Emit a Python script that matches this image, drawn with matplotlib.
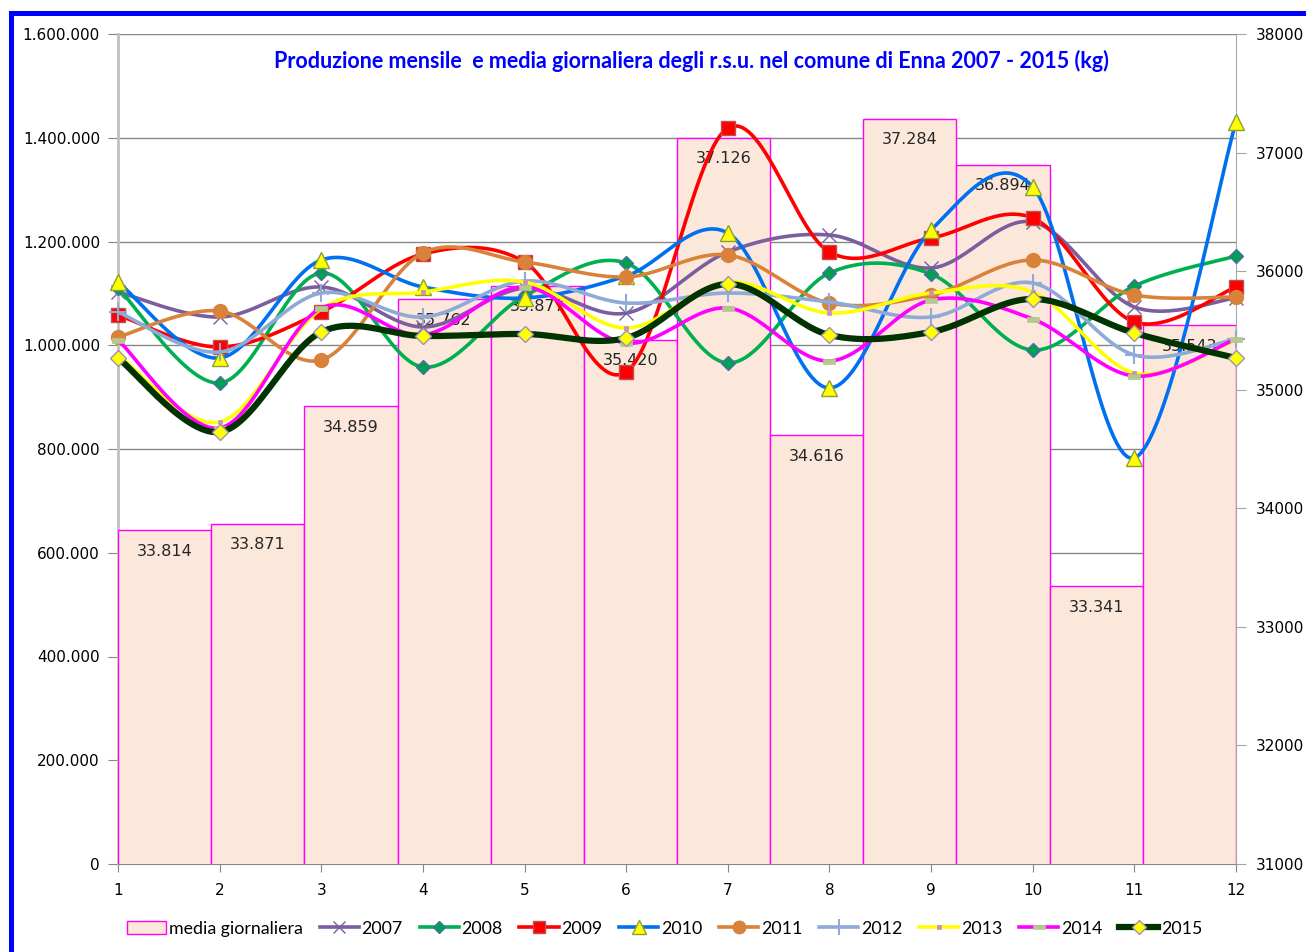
import numpy as np
import matplotlib
matplotlib.use("Agg")
import matplotlib.pyplot as plt
from matplotlib.lines import Line2D
from matplotlib.patches import Rectangle
from matplotlib.path import Path

# --- dati ---
mesi = list(range(1, 13))
media_giornaliera = [33814, 33871, 34859, 35762, 35877, 35420,
                     37126, 34616, 37284, 36894, 33341, 35543]

prod_2007 = [1102600, 1054400, 1112300, 1035200, 1110000, 1062000,
             1179700, 1212500, 1148900, 1237600, 1073700, 1091100]
prod_2008 = [1110300, 927200, 1139300, 958000, 1094900, 1158500,
             965800, 1139300, 1137300, 990800, 1114200, 1172000]
prod_2009 = [1058300, 996600, 1064100, 1175900, 1160500, 948400,
             1418800, 1179700, 1206800, 1245300, 1044800, 1112300]
prod_2010 = [1121900, 975400, 1164300, 1112300, 1091100, 1133500,
             1216400, 917600, 1222200, 1305000, 782600, 1430400]
prod_2011 = [1015900, 1066000, 971600, 1177800, 1160500, 1131600,
             1174000, 1081400, 1096900, 1164300, 1096900, 1093000]
prod_2012 = [1064100, 987000, 1100700, 1054400, 1123800, 1081400,
             1100700, 1083400, 1054400, 1120000, 981200, 1012000]
prod_2013 = [981200, 852000, 1070000, 1102600, 1121900, 1033300,
             1121900, 1062200, 1100700, 1102600, 946500, 1010100]
prod_2014 = [1010100, 840500, 1071800, 1020000, 1112300, 1004300,
             1071800, 969600, 1087200, 1050600, 940700, 1012000]
prod_2015 = [975400, 832800, 1025500, 1017800, 1021700, 1014000,
             1118100, 1019800, 1025500, 1089200, 1023600, 975400]

anni = ["2007", "2008", "2009", "2010", "2011", "2012", "2013", "2014", "2015"]
serie = [prod_2007, prod_2008, prod_2009, prod_2010, prod_2011,
         prod_2012, prod_2013, prod_2014, prod_2015]

# barretta orizzontale per il 2014
bar_marker = Path([(-1, -0.4), (1, -0.4), (1, 0.4), (-1, 0.4), (-1, -0.4)],
                  [Path.MOVETO, Path.LINETO, Path.LINETO, Path.LINETO, Path.CLOSEPOLY])

stili = [
    dict(color="#7b5e9f", lw=2.6, marker="x", ms=10, mfc="#7b5e9f", mec="#7b5e9f", mew=1.0),
    dict(color="#00b050", lw=2.6, marker="D", ms=7, mfc="#00a050", mec="#4a6ca8", mew=1.0),
    dict(color="#ff0000", lw=2.6, marker="s", ms=10, mfc="#ff0000", mec="#c0504d", mew=1.0),
    dict(color="#0070f0", lw=2.6, marker="^", ms=11, mfc="#ffff00", mec="#8ca030", mew=1.0),
    dict(color="#d9823a", lw=2.6, marker="o", ms=10, mfc="#d9823a", mec="#d9823a", mew=1.0),
    dict(color="#8eaad6", lw=2.6, marker="+", ms=13, mfc="#8eaad6", mec="#8eaad6", mew=1.5),
    dict(color="#ffff00", lw=2.6, marker="s", ms=3, mfc="#c88fc0", mec="#c88fc0", mew=0.5),
    dict(color="#ff00ff", lw=2.6, marker=bar_marker, ms=9, mfc="#b5c98e", mec="#b5c98e", mew=0.5),
    dict(color="#003300", lw=4.5, marker="D", ms=8, mfc="#ffff00", mec="#9a93b8", mew=1.0),
]


def smooth(xs, ys, n=30):
    """Curva smussata tipo Excel (bezier con punti di controllo catmull-rom)."""
    x = np.asarray(xs, float)
    y = np.asarray(ys, float)
    px = np.concatenate([[x[0]], x, [x[-1]]])
    py = np.concatenate([[y[0]], y, [y[-1]]])
    t = np.linspace(0, 1, n)
    ox, oy = [], []
    for i in range(len(x) - 1):
        x0, x1, x2, x3 = px[i:i + 4]
        y0, y1, y2, y3 = py[i:i + 4]
        cx1, cy1 = x1 + (x2 - x0) / 6, y1 + (y2 - y0) / 6
        cx2, cy2 = x2 - (x3 - x1) / 6, y2 - (y3 - y1) / 6
        a, b, c, d = (1 - t) ** 3, 3 * (1 - t) ** 2 * t, 3 * (1 - t) * t ** 2, t ** 3
        ox.append(a * x1 + b * cx1 + c * cx2 + d * x2)
        oy.append(a * y1 + b * cy1 + c * cy2 + d * y2)
    return np.concatenate(ox), np.concatenate(oy)


def fmt_it(v):
    return f"{v:,.0f}".replace(",", ".")


fig = plt.figure(figsize=(13.06, 9.52), dpi=100)
rect = [118 / 1306, 1 - 864 / 952, (1236 - 118) / 1306, (864 - 34) / 952]

# --- asse sinistro: griglia e tick ---
ax = fig.add_axes(rect)
ax.set_xlim(1, 12)
ax.set_ylim(0, 1600000)
ax.set_xticks(mesi)
ax.set_yticks(np.arange(0, 1600001, 200000))
ax.set_yticklabels([fmt_it(v) for v in np.arange(0, 1600001, 200000)])
ax.grid(axis="y", color="#868686", lw=1)
ax.set_axisbelow(True)
ax.tick_params(axis="y", direction="out", length=7, color="#868686", labelsize=11, pad=6)
ax.tick_params(axis="x", direction="out", length=6, color="#868686", labelsize=11, pad=8)
ax.spines["top"].set_visible(False)
ax.spines["left"].set_color("#c0c0c0")
ax.spines["left"].set_linewidth(2)
ax.spines["bottom"].set_color("#868686")
ax.spines["right"].set_color("#a6a6a6")

# --- asse destro: media giornaliera (barre) ---
axb = fig.add_axes(rect, frameon=False)
axb.set_xlim(0, 12)
axb.set_ylim(31000, 38000)
axb.set_xticks([])
axb.yaxis.tick_right()
axb.set_yticks(np.arange(31000, 38001, 1000))
axb.tick_params(axis="y", direction="out", length=7, color="#a6a6a6", labelsize=11, pad=7)
barre = axb.bar(np.arange(len(media_giornaliera)), media_giornaliera, width=1, align="edge",
                color="#fce8da", edgecolor="#ff00ff", lw=1, label="media giornaliera")
for r, v in zip(barre, media_giornaliera):
    axb.annotate(fmt_it(v), (r.get_x() + r.get_width() / 2, v), xytext=(0, -15),
                 textcoords="offset points", ha="center", va="center",
                 fontsize=11.5, color="#262626")

# --- linee ---
axl = fig.add_axes(rect, frameon=False)
axl.set_xlim(1, 12)
axl.set_ylim(0, 1600000)
axl.set_xticks([])
axl.set_yticks([])

handles = [barre]
for k, (anno, vals, st) in enumerate(zip(anni, serie, stili)):
    sx, sy = smooth(mesi, vals)
    axl.plot(sx, sy, color=st["color"], lw=st["lw"], solid_capstyle="round", zorder=2 + k)
    axl.plot(mesi, vals, ls="none", marker=st["marker"], ms=st["ms"], mfc=st["mfc"],
             mec=st["mec"], mew=st["mew"], color=st["color"], zorder=2 + k, clip_on=False)
    handles.append(Line2D([], [], color=st["color"], lw=st["lw"], marker=st["marker"],
                          ms=st["ms"] * 0.9, mfc=st["mfc"], mec=st["mec"], mew=st["mew"]))

fig.legend(handles, ["media giornaliera"] + anni, loc="center", bbox_to_anchor=(0.509, 0.0245),
           ncol=10, frameon=False, numpoints=1, handlelength=2.2, handletextpad=0.15,
           columnspacing=0.95, prop={"family": "Lato", "size": 12.8})

fig.text(691 / 1306, 1 - 61 / 952,
         "Produzione mensile  e media giornaliera degli r.s.u. nel comune di Enna 2007 - 2015 (kg)",
         ha="center", va="center", color="#0000ff", fontsize=15.5, fontweight="bold", family="Lato")

# cornice blu
fig.patches.append(Rectangle((10.5 / 1306, -0.1), 1.2, 1 - 12.5 / 952 + 0.1,
                             transform=fig.transFigure, fill=False, edgecolor="#0000ff", lw=3.6))

fig.savefig("out.png", dpi=100)
